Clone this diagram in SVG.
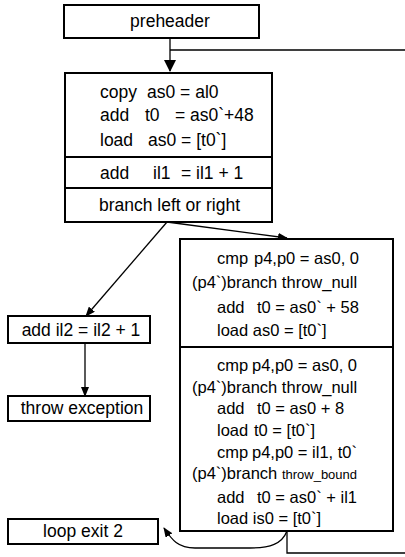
<svg xmlns="http://www.w3.org/2000/svg" width="405" height="557" viewBox="0 0 405 557">
<style>
  .box { fill: #ffffff; stroke: #000000; stroke-width: 2; }
  .div { stroke: #000000; stroke-width: 2; fill: none; }
  .edge { stroke: #000000; stroke-width: 1.3; fill: none; }
  text { font-family: "Liberation Sans", Arial, sans-serif; font-size: 17.5px; fill: #000000; }
  .r { font-size: 16.5px; }
  .mid { text-anchor: middle; }
  .small { font-size: 13px; }
</style>
<defs>
  <marker id="arr" markerWidth="10" markerHeight="8" refX="9" refY="4" orient="auto" markerUnits="userSpaceOnUse">
    <path d="M0,0 L10,4 L0,8 Z" fill="#000000"/>
  </marker>
  <marker id="arrBig" markerWidth="12" markerHeight="12" refX="11" refY="6" orient="auto" markerUnits="userSpaceOnUse">
    <path d="M0,0 L12,6 L0,12 Z" fill="#000000"/>
  </marker>
</defs>

<g id="connectors">
  <line class="edge" x1="170" y1="38" x2="170" y2="71" stroke-width="2" marker-end="url(#arrBig)"/>
  <path class="edge" d="M287,531 V553 H412 V50 H170" stroke-width="1.6"/>
  <line class="edge" x1="167" y1="222" x2="86" y2="316" marker-end="url(#arr)"/>
  <line class="edge" x1="167" y1="222" x2="287" y2="238" marker-end="url(#arr)"/>
  <line class="edge" x1="85" y1="343" x2="85" y2="396" marker-end="url(#arr)"/>
  <path class="edge" d="M287,531 C282,544 270,548 250,548 L195,548 C178,548 172,540 164,528" marker-end="url(#arr)"/>
</g>

<g id="preheader">
  <rect class="box" x="64" y="5" width="195" height="33"/>
  <text class="mid" x="170" y="27">preheader</text>
</g>

<g id="loop-header">
  <rect class="box" x="65" y="73" width="207" height="149"/>
  <line class="div" x1="65" y1="157" x2="272" y2="157"/>
  <line class="div" x1="65" y1="188" x2="272" y2="188"/>
  <text y="98"><tspan x="100">copy</tspan><tspan x="147">as0 = al0</tspan></text>
  <text y="121"><tspan x="100">add</tspan><tspan x="145">t0</tspan><tspan x="175">= as0`+48</tspan></text>
  <text y="146"><tspan x="100">load</tspan><tspan x="148">as0 = [t0`]</tspan></text>
  <text y="179"><tspan x="100">add</tspan><tspan x="153">il1</tspan><tspan x="181">= il1 + 1</tspan></text>
  <text y="211" x="99">branch left or right</text>
</g>

<g id="right-block">
  <rect class="box" x="180" y="239" width="213" height="292"/>
  <line class="div" x1="180" y1="347" x2="393" y2="347"/>
  <text class="r" y="264"><tspan x="217">cmp</tspan><tspan x="254">p4,p0 = as0, 0</tspan></text>
  <text class="r" y="288" x="192">(p4`)branch throw_null</text>
  <text class="r" y="313"><tspan x="217">add</tspan><tspan x="257">t0 = as0` + 58</tspan></text>
  <text class="r" y="336" x="217">load as0 = [t0`]</text>
  <text class="r" y="371"><tspan x="217">cmp</tspan><tspan x="252">p4,p0 = as0, 0</tspan></text>
  <text class="r" y="393" x="192">(p4`)branch throw_null</text>
  <text class="r" y="414"><tspan x="217">add</tspan><tspan x="257">t0 = as0 + 8</tspan></text>
  <text class="r" y="436"><tspan x="217">load</tspan><tspan x="254">t0 = [t0`]</tspan></text>
  <text class="r" y="458"><tspan x="217">cmp</tspan><tspan x="252">p4,p0 = il1, t0`</tspan></text>
  <text class="r" y="479" x="192">(p4`)branch <tspan class="small">throw_bound</tspan></text>
  <text class="r" y="503"><tspan x="217">add</tspan><tspan x="257">t0 = as0` + il1</tspan></text>
  <text class="r" y="524" x="217">load is0 = [t0`]</text>
</g>

<g id="add-il2">
  <rect class="box" x="8" y="316" width="142" height="27"/>
  <text class="mid" x="81" y="336">add il2 = il2 + 1</text>
</g>

<g id="throw-exception">
  <rect class="box" x="8" y="396" width="142" height="25"/>
  <text class="mid" x="82" y="414">throw exception</text>
</g>

<g id="loop-exit-2">
  <rect class="box" x="8" y="519" width="150" height="25"/>
  <text class="mid" x="83" y="537">loop exit 2</text>
</g>
</svg>
